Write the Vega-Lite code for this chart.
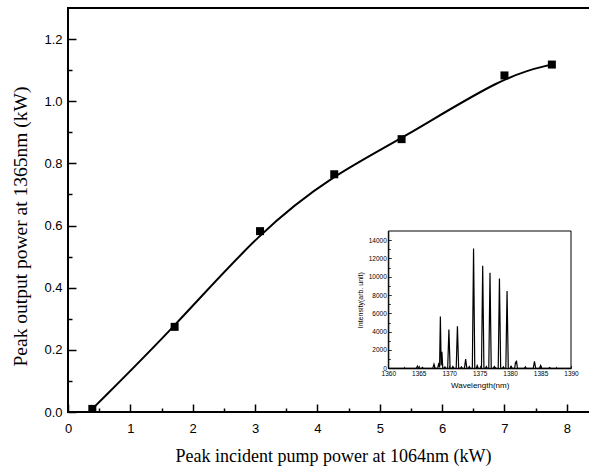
{
  "$schema": "https://vega.github.io/schema/vega-lite/v6.json",
  "width": 530,
  "height": 404,
  "autosize": {"type": "none"},
  "padding": {"left": 68, "top": 8, "right": 0, "bottom": 56},
  "background": "white",
  "config": {
    "view": {"stroke": "black", "strokeWidth": 2},
    "axis": {"grid": false, "labelColor": "black", "titleColor": "black", "tickColor": "black", "domainColor": "black", "titleFontWeight": "normal"}
  },
  "datasets": {
    "pts": [
      {"pump": 0.39, "out": 0.01},
      {"pump": 1.71, "out": 0.274},
      {"pump": 3.08, "out": 0.582},
      {"pump": 4.27, "out": 0.765},
      {"pump": 5.35, "out": 0.878},
      {"pump": 7.0, "out": 1.083},
      {"pump": 7.76, "out": 1.118}
    ],
    "spec": [
      {"wl": 1360, "I": 0}, {"wl": 1364.6, "I": 0}, {"wl": 1364.8, "I": 250}, {"wl": 1365.0, "I": 0},
      {"wl": 1365.45, "I": 0}, {"wl": 1365.6, "I": 100}, {"wl": 1365.75, "I": 0},
      {"wl": 1367.3, "I": 0}, {"wl": 1367.5, "I": 450}, {"wl": 1367.7, "I": 0},
      {"wl": 1368.1, "I": 0}, {"wl": 1368.3, "I": 600}, {"wl": 1368.42, "I": 100}, {"wl": 1368.55, "I": 5650}, {"wl": 1368.68, "I": 300}, {"wl": 1368.8, "I": 1800}, {"wl": 1368.95, "I": 0},
      {"wl": 1369.15, "I": 0}, {"wl": 1369.3, "I": 150}, {"wl": 1369.45, "I": 0},
      {"wl": 1369.75, "I": 0}, {"wl": 1369.95, "I": 4250}, {"wl": 1370.15, "I": 0},
      {"wl": 1370.45, "I": 0}, {"wl": 1370.6, "I": 200}, {"wl": 1370.75, "I": 0},
      {"wl": 1371.15, "I": 0}, {"wl": 1371.35, "I": 4600}, {"wl": 1371.55, "I": 0},
      {"wl": 1371.85, "I": 0}, {"wl": 1372.0, "I": 150}, {"wl": 1372.15, "I": 0},
      {"wl": 1372.5, "I": 0}, {"wl": 1372.7, "I": 1000}, {"wl": 1372.9, "I": 0},
      {"wl": 1373.15, "I": 0}, {"wl": 1373.3, "I": 200}, {"wl": 1373.45, "I": 0},
      {"wl": 1373.8, "I": 0}, {"wl": 1374.0, "I": 13100}, {"wl": 1374.2, "I": 0},
      {"wl": 1374.45, "I": 0}, {"wl": 1374.6, "I": 300}, {"wl": 1374.75, "I": 0},
      {"wl": 1375.3, "I": 0}, {"wl": 1375.5, "I": 11200}, {"wl": 1375.7, "I": 0},
      {"wl": 1375.95, "I": 0}, {"wl": 1376.1, "I": 200}, {"wl": 1376.25, "I": 0},
      {"wl": 1376.5, "I": 0}, {"wl": 1376.7, "I": 10450}, {"wl": 1376.9, "I": 0},
      {"wl": 1377.25, "I": 0}, {"wl": 1377.4, "I": 200}, {"wl": 1377.55, "I": 0},
      {"wl": 1378.05, "I": 0}, {"wl": 1378.25, "I": 9800}, {"wl": 1378.45, "I": 0},
      {"wl": 1378.75, "I": 0}, {"wl": 1378.9, "I": 150}, {"wl": 1379.05, "I": 0},
      {"wl": 1379.3, "I": 0}, {"wl": 1379.5, "I": 8450}, {"wl": 1379.7, "I": 0},
      {"wl": 1380.05, "I": 0}, {"wl": 1380.2, "I": 200}, {"wl": 1380.35, "I": 0},
      {"wl": 1380.75, "I": 0}, {"wl": 1380.9, "I": 700}, {"wl": 1380.98, "I": 500}, {"wl": 1381.05, "I": 850}, {"wl": 1381.2, "I": 0},
      {"wl": 1382.35, "I": 0}, {"wl": 1382.5, "I": 150}, {"wl": 1382.65, "I": 0},
      {"wl": 1383.8, "I": 0}, {"wl": 1384.0, "I": 750}, {"wl": 1384.2, "I": 0},
      {"wl": 1384.85, "I": 0}, {"wl": 1385.0, "I": 300}, {"wl": 1385.15, "I": 0},
      {"wl": 1386.35, "I": 0}, {"wl": 1386.5, "I": 80}, {"wl": 1386.65, "I": 0},
      {"wl": 1390, "I": 0}
    ],
    "frame": [{"x1": 1360, "x2": 1390, "y1": 0, "y2": 15000}]
  },
  "layer": [
    {
      "layer": [
        {
          "data": {"name": "pts"},
          "mark": {"type": "line", "interpolate": "basis", "color": "black", "strokeWidth": 2},
          "encoding": {
            "x": {"field": "pump", "type": "quantitative", "scale": {"domain": [0, 8.5], "nice": false, "zero": false},
              "axis": {"orient": "bottom", "values": [0, 1, 2, 3, 4, 5, 6, 7, 8], "domain": false, "tickSize": -8, "tickWidth": 1.5,
                "labelFont": "Liberation Sans", "labelFontSize": 13, "labelPadding": 18, "labelFlush": false,
                "title": "Peak incident pump power at 1064nm (kW)", "titleFont": "Liberation Serif", "titleFontSize": 18,
                "titleBaseline": "alphabetic", "titleY": 49}},
            "y": {"field": "out", "type": "quantitative", "scale": {"domain": [0, 1.3], "nice": false},
              "axis": {"orient": "left", "values": [0, 0.2, 0.4, 0.6, 0.8, 1.0, 1.2], "format": ".1f", "domain": false, "tickSize": -8, "tickWidth": 1.5,
                "labelFont": "Liberation Sans", "labelFontSize": 13, "labelPadding": 14, "labelFlush": false,
                "title": "Peak output power at 1365nm (kW)", "titleFont": "Liberation Serif", "titleFontSize": 19.5,
                "titleBaseline": "alphabetic", "titleX": -42, "titleY": 218}}
          }
        },
        {
          "data": {"name": "pts"},
          "mark": {"type": "square", "size": 64, "color": "black", "opacity": 1},
          "encoding": {
            "x": {"field": "pump", "type": "quantitative", "scale": {"domain": [0, 8.5], "nice": false, "zero": false},
              "axis": {"orient": "bottom", "values": [0.5, 1.5, 2.5, 3.5, 4.5, 5.5, 6.5, 7.5, 8.5], "domain": false, "labels": false, "tickSize": -4, "tickWidth": 1.5, "title": null}},
            "y": {"field": "out", "type": "quantitative", "scale": {"domain": [0, 1.3], "nice": false},
              "axis": {"orient": "left", "values": [0.1, 0.3, 0.5, 0.7, 0.9, 1.1], "domain": false, "labels": false, "tickSize": -4, "tickWidth": 1.5, "title": null}}
          }
        }
      ],
      "resolve": {"axis": {"x": "independent", "y": "independent"}}
    },
    {
      "layer": [
        {
          "data": {"name": "frame"},
          "mark": {"type": "rect", "fill": null, "fillOpacity": 0, "stroke": "black", "strokeWidth": 1},
          "encoding": {
            "x": {"field": "x1", "type": "quantitative", "scale": {"domain": [1360, 1390], "range": [320.3, 503], "nice": false, "zero": false},
              "axis": {"orient": "bottom", "offset": -43.7, "values": [1362.5, 1367.5, 1372.5, 1377.5, 1382.5, 1387.5], "domain": false, "labels": false, "tickSize": -2, "tickWidth": 0.8, "title": null}},
            "x2": {"field": "x2"},
            "y": {"field": "y1", "type": "quantitative", "scale": {"domain": [0, 15000], "range": [360.3, 223], "nice": false},
              "axis": {"orient": "left", "offset": -320.3, "values": [1000, 3000, 5000, 7000, 9000, 11000, 13000], "domain": false, "labels": false, "tickSize": -2, "tickWidth": 0.8, "title": null}},
            "y2": {"field": "y2"}
          }
        },
        {
          "data": {"name": "spec"},
          "mark": {"type": "line", "color": "black", "strokeWidth": 1.2},
          "encoding": {
            "x": {"field": "wl", "type": "quantitative", "scale": {"domain": [1360, 1390], "range": [320.3, 503], "nice": false, "zero": false},
              "axis": {"orient": "bottom", "offset": -43.7, "values": [1360, 1365, 1370, 1375, 1380, 1385, 1390], "format": "d", "domain": true, "domainWidth": 1, "tickSize": -3, "tickWidth": 0.8,
                "labelFont": "Liberation Sans", "labelFontSize": 6.5, "labelPadding": 5, "labelFlush": false,
                "title": "Wavelength(nm)", "titleFont": "Liberation Sans", "titleFontSize": 8, "titleBaseline": "alphabetic", "titleY": 19}},
            "y": {"field": "I", "type": "quantitative", "scale": {"domain": [0, 15000], "range": [360.3, 223], "nice": false},
              "axis": {"orient": "left", "offset": -320.3, "values": [0, 2000, 4000, 6000, 8000, 10000, 12000, 14000], "format": "d", "domain": true, "domainWidth": 1, "tickSize": -3, "tickWidth": 0.8,
                "labelFont": "Liberation Sans", "labelFontSize": 6.5, "labelPadding": 5, "labelFlush": false,
                "title": "Intensity(arb. unit)", "titleFont": "Liberation Sans", "titleFontSize": 7, "titleBaseline": "alphabetic", "titleX": -26}}
          }
        }
      ],
      "resolve": {"axis": {"x": "independent", "y": "independent"}}
    }
  ],
  "resolve": {"scale": {"x": "independent", "y": "independent"}, "axis": {"x": "independent", "y": "independent"}}
}
